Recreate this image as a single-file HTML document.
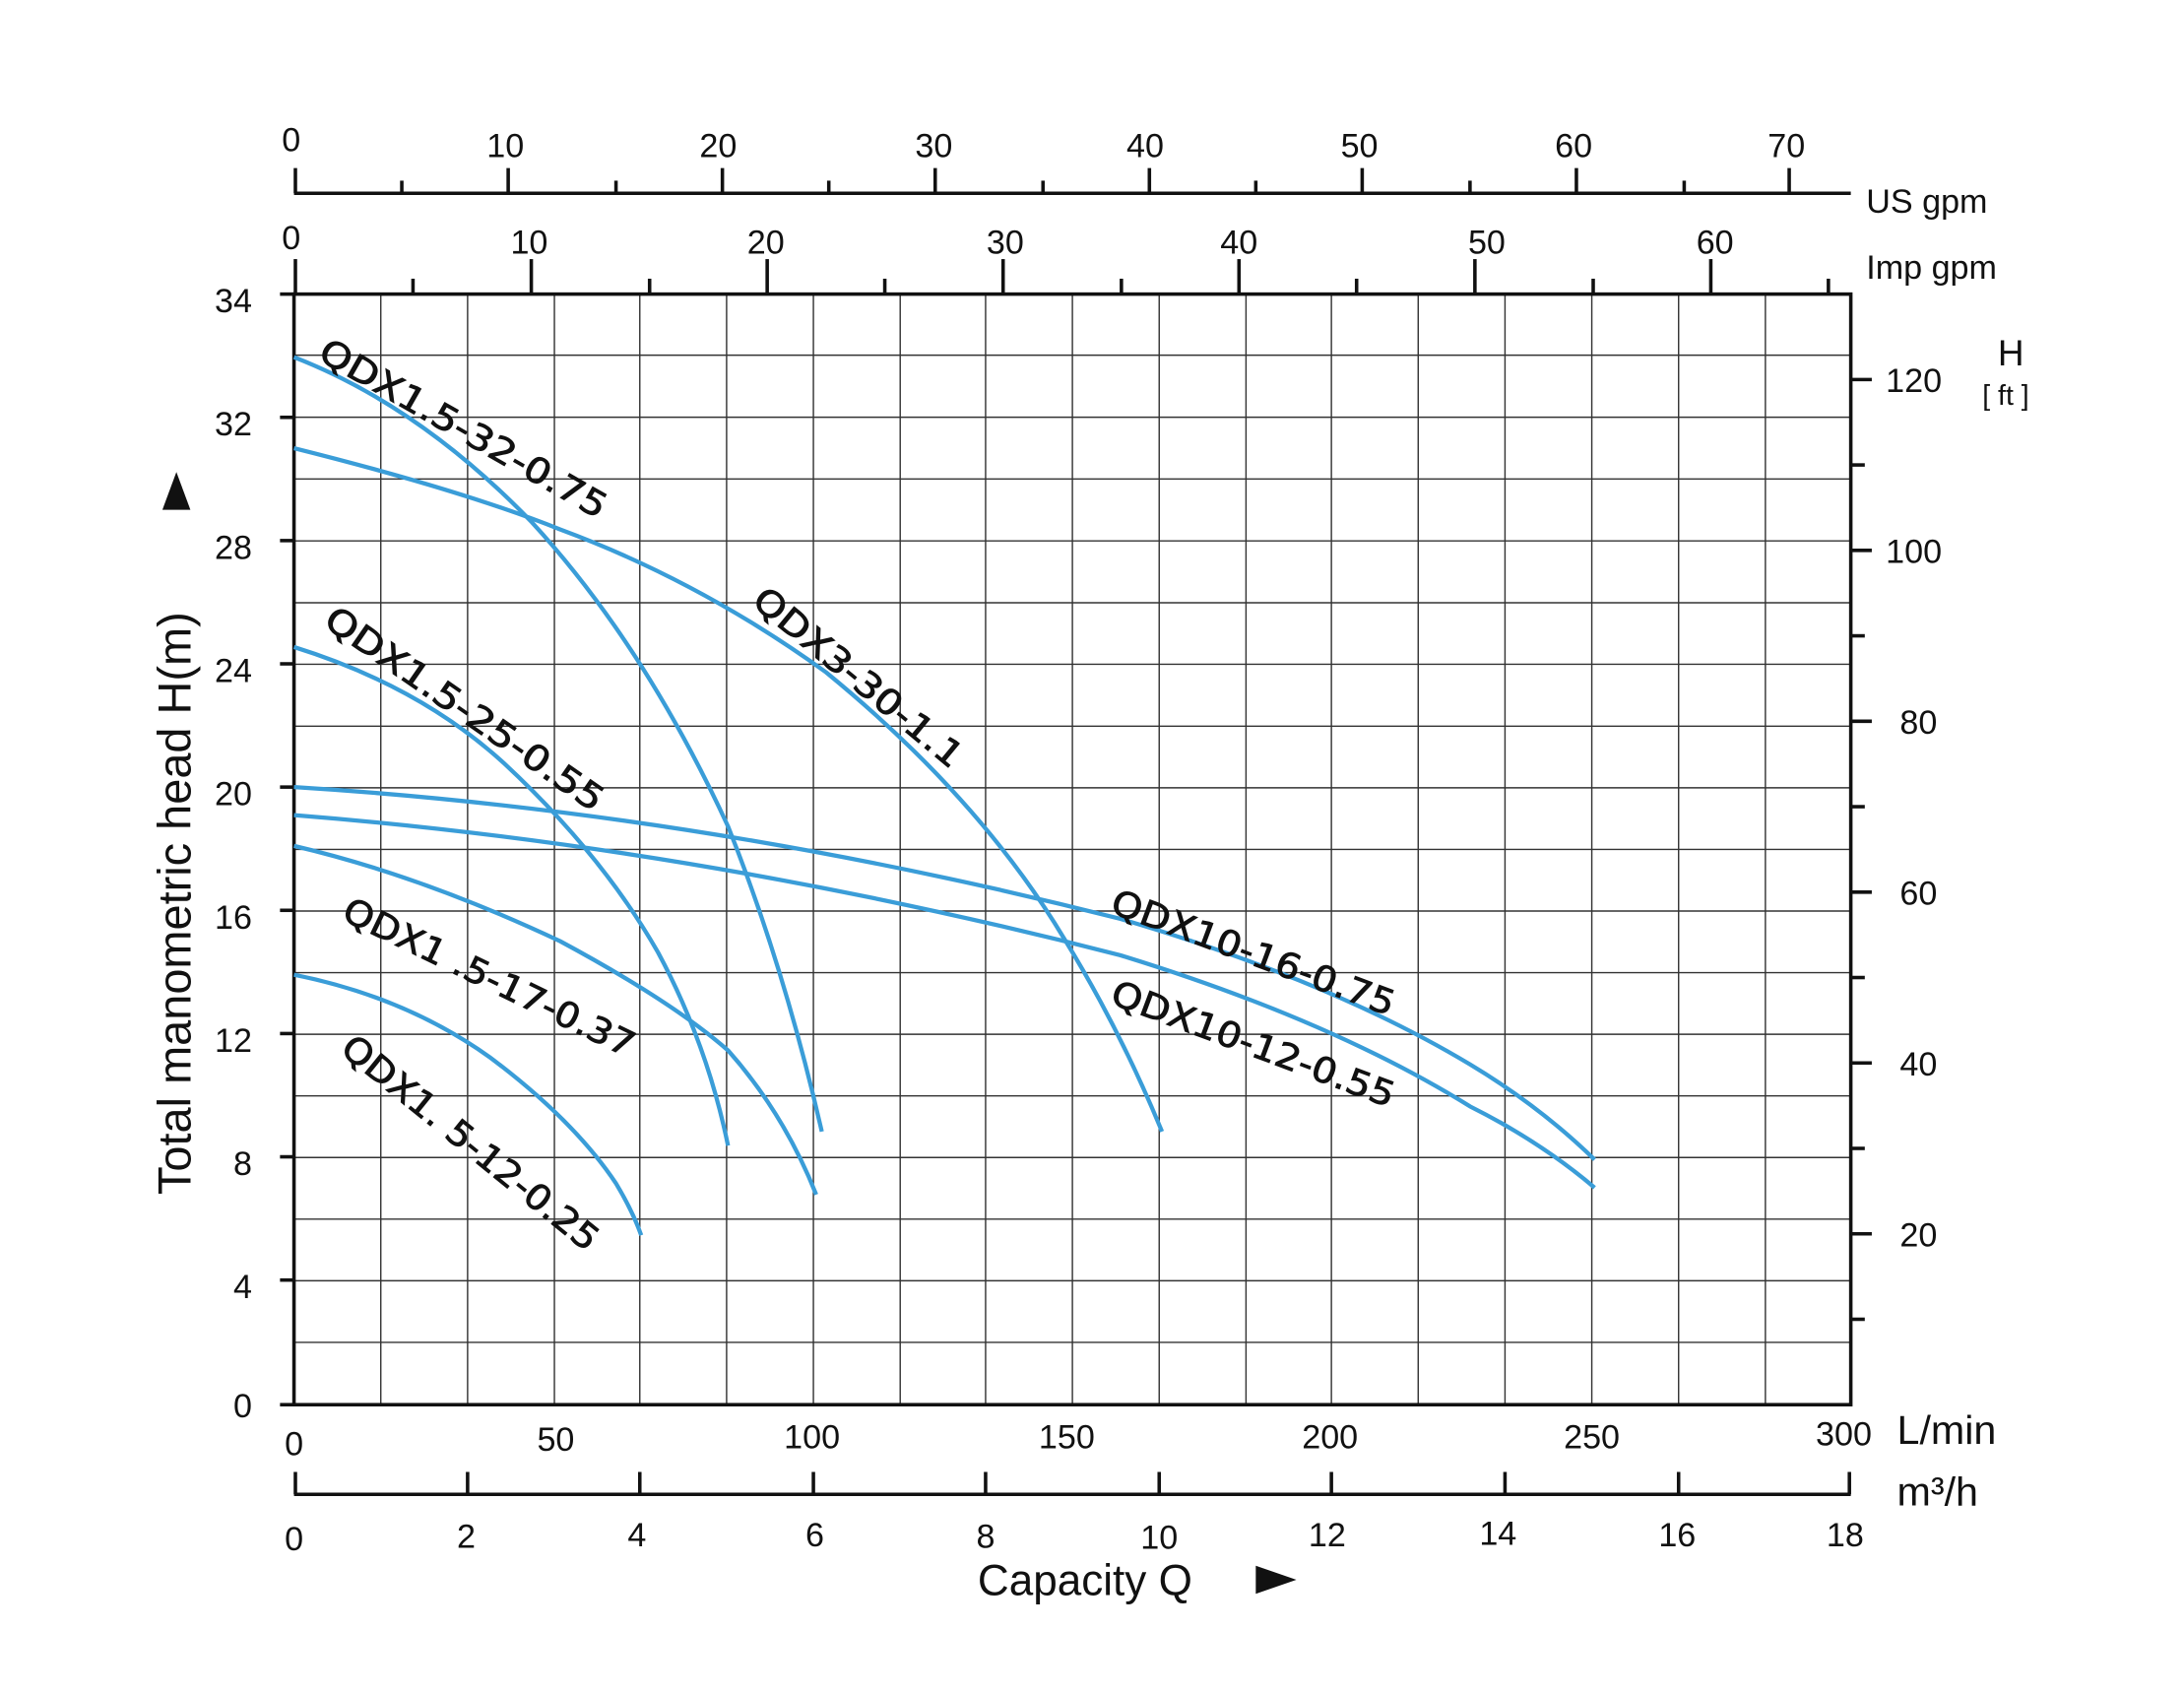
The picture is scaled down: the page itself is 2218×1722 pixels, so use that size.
<!DOCTYPE html>
<html><head><meta charset="utf-8"><style>html,body{margin:0;padding:0;background:#fff}svg{display:block}</style></head>
<body>
<svg width="2218" height="1722" viewBox="0 0 1560 1211" preserveAspectRatio="none" xmlns="http://www.w3.org/2000/svg" font-family="Liberation Sans, sans-serif">
<rect width="1560" height="1211" fill="#fff"/>
<g stroke="#333" stroke-width="1">
<line x1="272" y1="210" x2="272" y2="1003"/><line x1="334" y1="210" x2="334" y2="1003"/><line x1="396" y1="210" x2="396" y2="1003"/><line x1="457" y1="210" x2="457" y2="1003"/><line x1="519" y1="210" x2="519" y2="1003"/><line x1="581" y1="210" x2="581" y2="1003"/><line x1="643" y1="210" x2="643" y2="1003"/><line x1="704" y1="210" x2="704" y2="1003"/><line x1="766" y1="210" x2="766" y2="1003"/><line x1="828" y1="210" x2="828" y2="1003"/><line x1="890" y1="210" x2="890" y2="1003"/><line x1="951" y1="210" x2="951" y2="1003"/><line x1="1013" y1="210" x2="1013" y2="1003"/><line x1="1075" y1="210" x2="1075" y2="1003"/><line x1="1137" y1="210" x2="1137" y2="1003"/><line x1="1199" y1="210" x2="1199" y2="1003"/><line x1="1261" y1="210" x2="1261" y2="1003"/>
</g>
<g stroke="#333" stroke-width="1">
<line x1="210" y1="253.6" x2="1322" y2="253.6"/><line x1="210" y1="297.9" x2="1322" y2="297.9"/><line x1="210" y1="342" x2="1322" y2="342"/><line x1="210" y1="386.2" x2="1322" y2="386.2"/><line x1="210" y1="430.4" x2="1322" y2="430.4"/><line x1="210" y1="474.3" x2="1322" y2="474.3"/><line x1="210" y1="518.5" x2="1322" y2="518.5"/><line x1="210" y1="562.5" x2="1322" y2="562.5"/><line x1="210" y1="606.5" x2="1322" y2="606.5"/><line x1="210" y1="650.5" x2="1322" y2="650.5"/><line x1="210" y1="694.5" x2="1322" y2="694.5"/><line x1="210" y1="738.5" x2="1322" y2="738.5"/><line x1="210" y1="782.5" x2="1322" y2="782.5"/><line x1="210" y1="826.5" x2="1322" y2="826.5"/><line x1="210" y1="870.5" x2="1322" y2="870.5"/><line x1="210" y1="914.5" x2="1322" y2="914.5"/><line x1="210" y1="958.5" x2="1322" y2="958.5"/>
</g>
<rect x="210" y="210" width="1112" height="793" fill="none" stroke="#111" stroke-width="2.5"/>
<g stroke="#111" stroke-width="2.5">
<line x1="200" y1="210" x2="210" y2="210"/><line x1="200" y1="298" x2="210" y2="298"/><line x1="200" y1="386" x2="210" y2="386"/><line x1="200" y1="474" x2="210" y2="474"/><line x1="200" y1="562" x2="210" y2="562"/><line x1="200" y1="650" x2="210" y2="650"/><line x1="200" y1="738" x2="210" y2="738"/><line x1="200" y1="826" x2="210" y2="826"/><line x1="200" y1="914" x2="210" y2="914"/><line x1="200" y1="1003" x2="210" y2="1003"/>
</g>
<g font-size="24" fill="#111" text-anchor="end">
<text x="180" y="223">34</text><text x="180" y="311">32</text><text x="180" y="399">28</text><text x="180" y="487">24</text><text x="180" y="575">20</text><text x="180" y="663">16</text><text x="180" y="751">12</text><text x="180" y="839">8</text><text x="180" y="927">4</text><text x="180" y="1012">0</text>
</g>
<text transform="translate(136,645) rotate(-90)" font-size="33" text-anchor="middle" fill="#111">Total manometric head H(m)</text>
<polygon points="126,337 116,364 136,364" fill="#111"/>
<g stroke="#111" stroke-width="2.5">
<line x1="1322" y1="881" x2="1337" y2="881"/><line x1="1322" y1="759" x2="1337" y2="759"/><line x1="1322" y1="637" x2="1337" y2="637"/><line x1="1322" y1="515" x2="1337" y2="515"/><line x1="1322" y1="393" x2="1337" y2="393"/><line x1="1322" y1="271" x2="1337" y2="271"/>
<line x1="1322" y1="942" x2="1332" y2="942"/><line x1="1322" y1="820" x2="1332" y2="820"/><line x1="1322" y1="698" x2="1332" y2="698"/><line x1="1322" y1="576" x2="1332" y2="576"/><line x1="1322" y1="454" x2="1332" y2="454"/><line x1="1322" y1="332" x2="1332" y2="332"/>
</g>
<g font-size="24" fill="#111">
<text x="1357" y="890">20</text><text x="1357" y="768">40</text><text x="1357" y="646">60</text><text x="1357" y="524">80</text><text x="1347" y="402">100</text><text x="1347" y="280">120</text>
<text x="1427" y="261" font-size="26">H</text><text x="1416" y="289" font-size="20">[ ft ]</text>
</g>
<g stroke="#111" stroke-width="2.5">
<line x1="211" y1="185" x2="211" y2="210"/><line x1="379.5" y1="185" x2="379.5" y2="210"/><line x1="548" y1="185" x2="548" y2="210"/><line x1="716.5" y1="185" x2="716.5" y2="210"/><line x1="885" y1="185" x2="885" y2="210"/><line x1="1053.5" y1="185" x2="1053.5" y2="210"/><line x1="1222" y1="185" x2="1222" y2="210"/>
<line x1="295" y1="199" x2="295" y2="210"/><line x1="464" y1="199" x2="464" y2="210"/><line x1="632" y1="199" x2="632" y2="210"/><line x1="801" y1="199" x2="801" y2="210"/><line x1="969" y1="199" x2="969" y2="210"/><line x1="1138" y1="199" x2="1138" y2="210"/><line x1="1306" y1="199" x2="1306" y2="210"/>
</g>
<g font-size="24" fill="#111" text-anchor="middle">
<text x="208" y="178">0</text><text x="378" y="181">10</text><text x="547" y="181">20</text><text x="718" y="181">30</text><text x="885" y="181">40</text><text x="1062" y="181">50</text><text x="1225" y="181">60</text>
</g>
<text x="1333" y="199" font-size="24" fill="#111">Imp gpm</text>
<g stroke="#111" stroke-width="2.5">
<line x1="210" y1="138" x2="1322" y2="138"/>
<line x1="211" y1="120" x2="211" y2="138"/><line x1="363" y1="120" x2="363" y2="138"/><line x1="516" y1="120" x2="516" y2="138"/><line x1="668" y1="120" x2="668" y2="138"/><line x1="821" y1="120" x2="821" y2="138"/><line x1="973" y1="120" x2="973" y2="138"/><line x1="1126" y1="120" x2="1126" y2="138"/><line x1="1278" y1="120" x2="1278" y2="138"/>
<line x1="287" y1="129" x2="287" y2="138"/><line x1="440" y1="129" x2="440" y2="138"/><line x1="592" y1="129" x2="592" y2="138"/><line x1="745" y1="129" x2="745" y2="138"/><line x1="897" y1="129" x2="897" y2="138"/><line x1="1050" y1="129" x2="1050" y2="138"/><line x1="1203" y1="129" x2="1203" y2="138"/>
</g>
<g font-size="24" fill="#111" text-anchor="middle">
<text x="208" y="108">0</text><text x="361" y="112">10</text><text x="513" y="112">20</text><text x="667" y="112">30</text><text x="818" y="112">40</text><text x="971" y="112">50</text><text x="1124" y="112">60</text><text x="1276" y="112">70</text>
</g>
<text x="1333" y="152" font-size="24" fill="#111">US gpm</text>
<g font-size="24" fill="#111" text-anchor="middle">
<text x="210" y="1039">0</text><text x="397" y="1036">50</text><text x="580" y="1034">100</text><text x="762" y="1034">150</text><text x="950" y="1034">200</text><text x="1137" y="1034">250</text><text x="1317" y="1032">300</text>
</g>
<text x="1355" y="1031" font-size="29" fill="#111">L/min</text>
<g stroke="#111" stroke-width="2.5">
<line x1="210" y1="1067" x2="1322" y2="1067"/>
<line x1="211" y1="1051" x2="211" y2="1067"/><line x1="334" y1="1051" x2="334" y2="1067"/><line x1="457" y1="1051" x2="457" y2="1067"/><line x1="581" y1="1051" x2="581" y2="1067"/><line x1="704" y1="1051" x2="704" y2="1067"/><line x1="828" y1="1051" x2="828" y2="1067"/><line x1="951" y1="1051" x2="951" y2="1067"/><line x1="1075" y1="1051" x2="1075" y2="1067"/><line x1="1199" y1="1051" x2="1199" y2="1067"/><line x1="1321" y1="1051" x2="1321" y2="1067"/>
</g>
<g font-size="24" fill="#111" text-anchor="middle">
<text x="210" y="1107">0</text><text x="333" y="1105">2</text><text x="455" y="1104">4</text><text x="582" y="1104">6</text><text x="704" y="1105">8</text><text x="828" y="1106">10</text><text x="948" y="1104">12</text><text x="1070" y="1103">14</text><text x="1198" y="1104">16</text><text x="1318" y="1104">18</text>
</g>
<text x="1355" y="1075" font-size="29" fill="#111">m³/h</text>
<text x="775" y="1139" font-size="31" text-anchor="middle" fill="#111">Capacity Q</text>
<polygon points="897,1118 897,1138 926,1128" fill="#111"/>
<g fill="none" stroke="#3a9dd8" stroke-width="3">
<path d="M210,255 Q300,290 380,373 Q460,460 520,590 Q560,690 587,808"/>
<path d="M210,320 Q330,350 400,378 Q500,415 590,480 Q700,570 760,670 Q800,735 830,808"/>
<path d="M210,462 Q300,490 360,545 Q430,610 470,680 Q505,745 520,818"/>
<path d="M210,562 Q500,580 800,656 Q950,700 1050,760 Q1100,790 1139,828"/>
<path d="M210,582 Q500,605 800,682 Q950,728 1050,790 Q1100,815 1139,848"/>
<path d="M210,604 Q300,625 400,672 Q480,715 520,750 Q560,795 583,853"/>
<path d="M210,696 Q290,712 350,755 Q410,800 440,845 Q452,865 458,882"/>
</g>
<g font-family="DejaVu Sans, sans-serif" font-size="25" fill="#111" stroke="#111" stroke-width="0.6">
<text transform="translate(226,256) rotate(29.7)" textLength="232" lengthAdjust="spacingAndGlyphs">QDX1.5-32-0.75</text>
<text transform="translate(536,431) rotate(39.6)" textLength="186" lengthAdjust="spacingAndGlyphs">QDX3-30-1.1</text>
<text transform="translate(230,446) rotate(34.7)" textLength="236" lengthAdjust="spacingAndGlyphs">QDX1.5-25-0.55</text>
<text transform="translate(792,651) rotate(20.4)" textLength="214" lengthAdjust="spacingAndGlyphs">QDX10-16-0.75</text>
<text transform="translate(792,716) rotate(20.5)" textLength="214" lengthAdjust="spacingAndGlyphs">QDX10-12-0.55</text>
<text transform="translate(243,656) rotate(25.8)" textLength="228" lengthAdjust="spacingAndGlyphs">QDX1 .5-17-0.37</text>
<text transform="translate(242,751) rotate(39)" textLength="228" lengthAdjust="spacingAndGlyphs">QDX1. 5-12-0.25</text>
</g>
</svg>
</body></html>
